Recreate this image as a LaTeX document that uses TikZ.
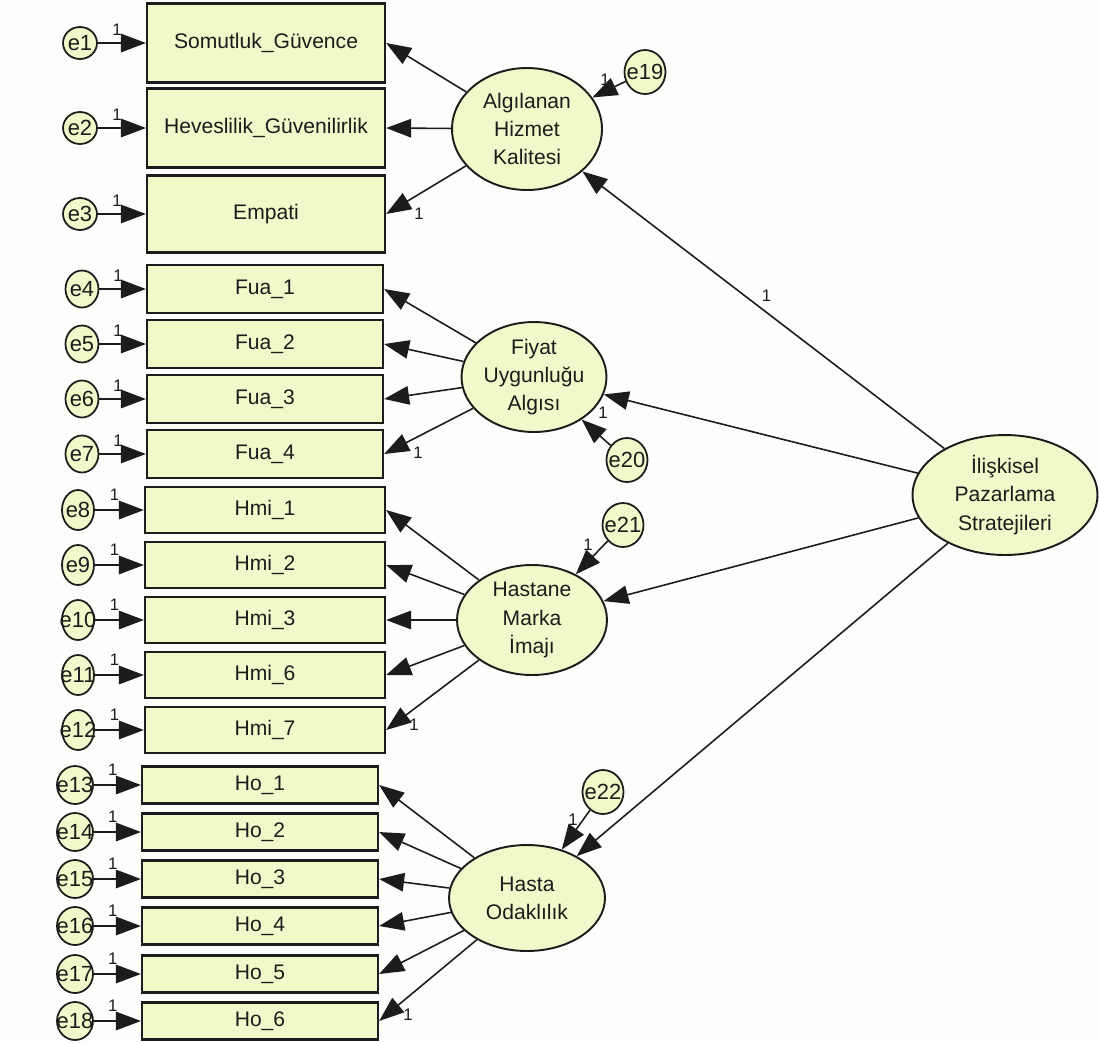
\documentclass[tikz,border=0pt]{standalone}
\usepackage{fontspec}
\setmainfont{Liberation Sans}
\usetikzlibrary{arrows.meta,calc,positioning,shapes.geometric}
\definecolor{AmosFill}{HTML}{F3F8CB}
\definecolor{InkDark}{HTML}{1C1C1C}
\definecolor{PaperWhite}{HTML}{FDFDFB}
% error names may run past their small circles
\newcommand{\errname}[1]{\makebox[0pt]{#1}}

\begin{document}
\begin{tikzpicture}[
    x=0.02cm, y=-0.02cm,
    >={Triangle[length=0.5cm,width=0.37cm]},
    font=\fontsize{12}{16}\selectfont,
    obsbox/.style={draw=InkDark,fill=AmosFill,line width=1.3pt,minimum width=4.76cm,minimum height=0.96cm,inner sep=0pt,text=InkDark},
    errnode/.style={ellipse,draw=InkDark,fill=AmosFill,line width=1pt,minimum width=0.66cm,minimum height=0.70cm,inner sep=0pt,text=InkDark,font=\fontsize{12.5}{14}\selectfont},
    lerr/.style={errnode,minimum width=0.82cm,minimum height=0.88cm},
    latent/.style={ellipse,draw=InkDark,fill=AmosFill,line width=1.1pt,inner sep=0pt,align=center,text=InkDark},
    arr/.style={->,line width=0.9pt,draw=InkDark},
    lbl/.style={font=\fontsize{9.5}{11}\selectfont,inner sep=1pt,text=InkDark}
  ]
  \path[fill=PaperWhite,use as bounding box] (0,0) rectangle (1099,1042);

  % latent variables
  \node[latent,minimum width=3.0cm,minimum height=2.44cm] (hizmet) at (527,129) {Algılanan\\Hizmet\\Kalitesi};
  \node[latent,minimum width=2.9cm,minimum height=2.2cm] (fiyat) at (534,377) {Fiyat\\Uygunluğu\\Algısı};
  \node[latent,minimum width=3.0cm,minimum height=2.2cm] (marka) at (532,620) {Hastane\\Marka\\İmajı};
  \node[latent,minimum width=3.12cm,minimum height=2.12cm] (odak) at (527,898) {Hasta\\Odaklılık};
  \node[latent,minimum width=3.7cm,minimum height=2.4cm] (iliski) at (1005,495) {İlişkisel\\Pazarlama\\Stratejileri};

  % disturbances of the first order factors
  \node[lerr] (e19) at (645,72) {\errname{e19}};
  \node[lerr] (e20) at (627,460) {\errname{e20}};
  \node[lerr] (e21) at (623,525) {\errname{e21}};
  \node[lerr] (e22) at (603,792) {\errname{e22}};

  % service quality indicators
  \node[obsbox,minimum height=1.58cm] (somut) at (266,43) {Somutluk\_Güvence};
  \node[obsbox,minimum height=1.58cm] (heves) at (266,128) {Heveslilik\_Güvenilirlik};
  \node[obsbox,minimum height=1.54cm] (empati) at (266,214) {Empati};
  \node[errnode,minimum width=0.68cm,minimum height=0.64cm] (e1) at (80,43) {\errname{e1}};
  \node[errnode,minimum width=0.68cm,minimum height=0.64cm] (e2) at (80,128) {\errname{e2}};
  \node[errnode,minimum width=0.68cm,minimum height=0.64cm] (e3) at (80,214) {\errname{e3}};

  % price fairness indicators
  \node[obsbox,minimum width=4.72cm] (fua1) at (265,289) {Fua\_1};
  \node[obsbox,minimum width=4.72cm] (fua2) at (265,344) {Fua\_2};
  \node[obsbox,minimum width=4.72cm] (fua3) at (265,399) {Fua\_3};
  \node[obsbox,minimum width=4.72cm] (fua4) at (265,454) {Fua\_4};
  \node[errnode,minimum height=0.74cm] (e4) at (82,289) {\errname{e4}};
  \node[errnode,minimum height=0.74cm] (e5) at (82,344) {\errname{e5}};
  \node[errnode,minimum height=0.74cm] (e6) at (82,399) {\errname{e6}};
  \node[errnode,minimum height=0.74cm] (e7) at (82,454) {\errname{e7}};

  % brand image indicators
  \node[obsbox,minimum width=4.8cm,minimum height=0.92cm] (hmi1) at (265,510) {Hmi\_1};
  \node[obsbox,minimum width=4.8cm,minimum height=0.92cm] (hmi2) at (265,565) {Hmi\_2};
  \node[obsbox,minimum width=4.8cm,minimum height=0.92cm] (hmi3) at (265,620) {Hmi\_3};
  \node[obsbox,minimum width=4.8cm,minimum height=0.92cm] (hmi6) at (265,675) {Hmi\_6};
  \node[obsbox,minimum width=4.8cm,minimum height=0.92cm] (hmi7) at (265,730) {Hmi\_7};
  \node[errnode,minimum width=0.64cm,minimum height=0.80cm] (e8) at (78,510) {\errname{e8}};
  \node[errnode,minimum width=0.64cm,minimum height=0.80cm] (e9) at (78,565) {\errname{e9}};
  \node[errnode,minimum width=0.64cm,minimum height=0.80cm] (e10) at (78,620) {\errname{e10}};
  \node[errnode,minimum width=0.64cm,minimum height=0.80cm] (e11) at (78,675) {\errname{e11}};
  \node[errnode,minimum width=0.64cm,minimum height=0.80cm] (e12) at (78,730) {\errname{e12}};

  % patient focus indicators
  \node[obsbox,minimum width=4.72cm,minimum height=0.74cm] (ho1) at (260,785) {Ho\_1};
  \node[obsbox,minimum width=4.72cm,minimum height=0.74cm] (ho2) at (260,832) {Ho\_2};
  \node[obsbox,minimum width=4.72cm,minimum height=0.74cm] (ho3) at (260,879) {Ho\_3};
  \node[obsbox,minimum width=4.72cm,minimum height=0.74cm] (ho4) at (260,926) {Ho\_4};
  \node[obsbox,minimum width=4.72cm,minimum height=0.74cm] (ho5) at (260,974) {Ho\_5};
  \node[obsbox,minimum width=4.72cm,minimum height=0.74cm] (ho6) at (260,1021) {Ho\_6};
  \node[errnode,minimum width=0.72cm,minimum height=0.76cm] (e13) at (75,785) {\errname{e13}};
  \node[errnode,minimum width=0.72cm,minimum height=0.76cm] (e14) at (75,832) {\errname{e14}};
  \node[errnode,minimum width=0.72cm,minimum height=0.76cm] (e15) at (75,879) {\errname{e15}};
  \node[errnode,minimum width=0.72cm,minimum height=0.76cm] (e16) at (75,926) {\errname{e16}};
  \node[errnode,minimum width=0.72cm,minimum height=0.76cm] (e17) at (75,974) {\errname{e17}};
  \node[errnode,minimum width=0.72cm,minimum height=0.76cm] (e18) at (75,1021) {\errname{e18}};

  % measurement errors
  \draw[arr] (e1) -- node[lbl,pos=0.4,above=3pt] {1} (somut.west);
  \draw[arr] (e2) -- node[lbl,pos=0.4,above=3pt] {1} (heves.west);
  \draw[arr] (e3) -- node[lbl,pos=0.4,above=3pt] {1} (empati.west);
  \draw[arr] (e4) -- node[lbl,pos=0.4,above=3pt] {1} (fua1.west);
  \draw[arr] (e5) -- node[lbl,pos=0.4,above=3pt] {1} (fua2.west);
  \draw[arr] (e6) -- node[lbl,pos=0.4,above=3pt] {1} (fua3.west);
  \draw[arr] (e7) -- node[lbl,pos=0.4,above=3pt] {1} (fua4.west);
  \draw[arr] (e8) -- node[lbl,pos=0.4,above=4pt] {1} (hmi1.west);
  \draw[arr] (e9) -- node[lbl,pos=0.4,above=4pt] {1} (hmi2.west);
  \draw[arr] (e10) -- node[lbl,pos=0.4,above=4pt] {1} (hmi3.west);
  \draw[arr] (e11) -- node[lbl,pos=0.4,above=4pt] {1} (hmi6.west);
  \draw[arr] (e12) -- node[lbl,pos=0.4,above=4pt] {1} (hmi7.west);
  \draw[arr] (e13) -- node[lbl,pos=0.4,above=4pt] {1} (ho1.west);
  \draw[arr] (e14) -- node[lbl,pos=0.4,above=4pt] {1} (ho2.west);
  \draw[arr] (e15) -- node[lbl,pos=0.4,above=4pt] {1} (ho3.west);
  \draw[arr] (e16) -- node[lbl,pos=0.4,above=4pt] {1} (ho4.west);
  \draw[arr] (e17) -- node[lbl,pos=0.4,above=4pt] {1} (ho5.west);
  \draw[arr] (e18) -- node[lbl,pos=0.4,above=4pt] {1} (ho6.west);

  % factor loadings
  \draw[arr] (hizmet) -- (somut.east);
  \draw[arr] (hizmet) -- (heves.east);
  \draw[arr] (hizmet) -- (empati.east);
  \node[lbl] (lemp) at ($(empati.east)+(33,0)$) {1};
  \draw[arr] (fiyat) -- (fua1.east);
  \draw[arr] (fiyat) -- (fua2.east);
  \draw[arr] (fiyat) -- (fua3.east);
  \draw[arr] (fiyat) -- (fua4.east);
  \node[lbl] (lfua) at ($(fua4.east)+(34,-1)$) {1};
  \draw[arr] (marka) -- (hmi1.east);
  \draw[arr] (marka) -- (hmi2.east);
  \draw[arr] (marka) -- (hmi3.east);
  \draw[arr] (marka) -- (hmi6.east);
  \draw[arr] (marka) -- (hmi7.east);
  \node[lbl] (lhmi) at ($(hmi7.east)+(28,-5)$) {1};
  \draw[arr] (odak) -- (ho1.east);
  \draw[arr] (odak) -- (ho2.east);
  \draw[arr] (odak) -- (ho3.east);
  \draw[arr] (odak) -- (ho4.east);
  \draw[arr] (odak) -- (ho5.east);
  \draw[arr] (odak) -- (ho6.east);
  \node[lbl] (lho) at ($(ho6.east)+(29,-6)$) {1};

  % second order paths and disturbances
  \draw[arr] (iliski) -- node[lbl,pos=0.55,right=8pt] {1} (hizmet);
  \draw[arr] (iliski) -- (fiyat);
  \draw[arr] (iliski) -- (marka);
  \draw[arr] (iliski) -- (odak);
  \draw[arr] (e19) -- (hizmet);
  \node[lbl] (l19) at ($(e19)+(-40,8)$) {1};
  \draw[arr] (e20) -- (fiyat);
  \node[lbl] (l20) at ($(e20)+(-24,-47)$) {1};
  \draw[arr] (e21) -- (marka);
  \node[lbl] (l21) at ($(e21)+(-35,20)$) {1};
  \draw[arr] (e22) -- (odak);
  \node[lbl] (l22) at ($(e22)+(-30,28)$) {1};
\end{tikzpicture}
\end{document}
